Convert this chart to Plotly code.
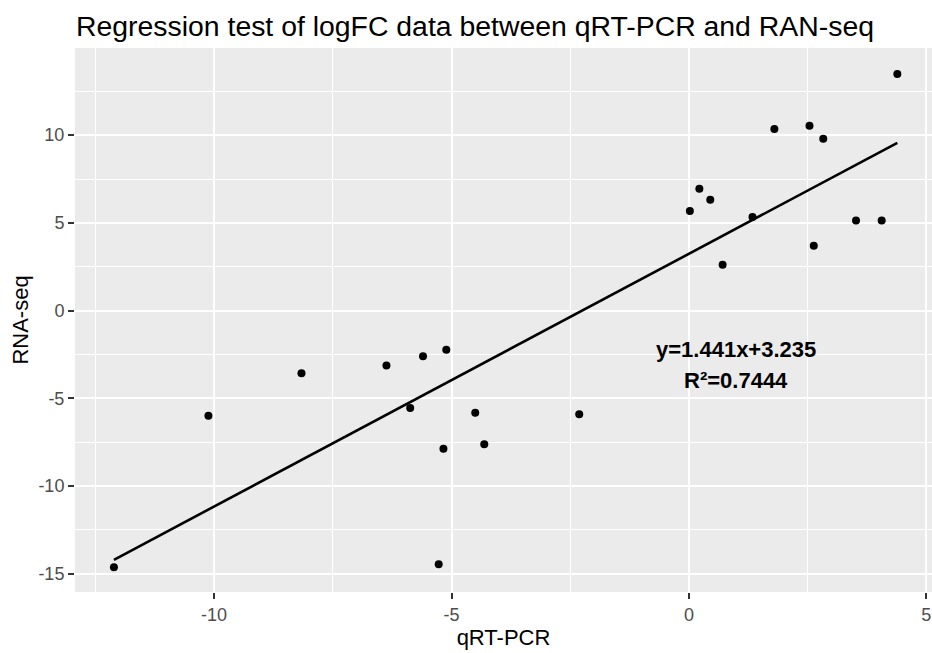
import plotly.graph_objects as go
import numpy as np

qrt_pcr = [-12.11, -10.12, -8.16, -6.37, -5.87, -5.60, -5.11, -5.17, -5.27, -4.50, -4.31, -2.31,
           0.02, 0.22, 0.45, 0.71, 1.34, 1.80, 2.54, 2.83, 2.63, 3.52, 4.06, 4.39]
rna_seq = [-14.64, -6.00, -3.58, -3.13, -5.56, -2.60, -2.23, -7.88, -14.47, -5.83, -7.62, -5.92,
           5.68, 6.94, 6.31, 2.61, 5.34, 10.35, 10.54, 9.80, 3.70, 5.13, 5.13, 13.49]
slope = 1.441
intercept = 3.235
r_squared = 0.7444

x_ticks = [-10, -5, 0, 5]
x_tick_labels = ["-10", "-5", "0", "5"]
y_ticks = [-15, -10, -5, 0, 5, 10]
y_tick_labels = ["-15", "-10", "-5", "0", "5", "10"]

FONT = "Liberation Sans, Arial, sans-serif"

x_line = np.linspace(min(qrt_pcr), max(qrt_pcr), 80)
y_line = slope * x_line + intercept

fig = go.Figure()
fig.add_trace(go.Scatter(x=x_line, y=y_line, mode="lines",
                         line=dict(color="black", width=2.6), showlegend=False, hoverinfo="skip"))
fig.add_trace(go.Scatter(x=qrt_pcr, y=rna_seq, mode="markers",
                         marker=dict(color="black", size=8), showlegend=False))

fig.add_annotation(x=1.0, y=-2.2, xref="x", yref="y", showarrow=False,
                   text=f"<b>y={slope}x+{intercept}</b>",
                   font=dict(family=FONT, size=22, color="black"))
fig.add_annotation(x=1.0, y=-4.0, xref="x", yref="y", showarrow=False,
                   text=f"<b>R²={r_squared}</b>",
                   font=dict(family=FONT, size=22, color="black"))

axis_common = dict(
    showgrid=True, gridcolor="white", gridwidth=2,
    zeroline=False, showline=False, automargin=False,
    ticks="outside", ticklen=6, tickwidth=1.5, tickcolor="#333333",
    tickfont=dict(family=FONT, size=18, color="#4D4D4D"),
)

fig.update_layout(
    width=932, height=653,
    paper_bgcolor="white", plot_bgcolor="#EBEBEB",
    margin=dict(l=75, r=0, t=48, b=61, autoexpand=False),
    title=dict(text="Regression test of logFC data between qRT-PCR and RAN-seq",
               x=76 / 932, xref="container", xanchor="left",
               y=1 - 26 / 653, yref="container", yanchor="middle",
               font=dict(family=FONT, size=28.4, color="black")),
    xaxis=dict(range=[-12.93, 5.12], tickvals=x_ticks, ticktext=x_tick_labels,
               title=dict(text="qRT-PCR", font=dict(family=FONT, size=22, color="black"), standoff=0),
               minor=dict(tickvals=[-12.5, -7.5, -2.5, 2.5], showgrid=True, gridcolor="white",
                          gridwidth=1, ticks=""),
               **axis_common),
    yaxis=dict(range=[-16.05, 14.97], tickvals=y_ticks, ticktext=y_tick_labels,
               title=dict(text="RNA-seq", font=dict(family=FONT, size=22, color="black"), standoff=3),
               minor=dict(tickvals=[-12.5, -7.5, -2.5, 2.5, 7.5, 12.5], showgrid=True,
                          gridcolor="white", gridwidth=1, ticks=""),
               **axis_common),
)

fig.write_html("out.html", config={"displayModeBar": False},
               post_script="document.body.style.margin='0';document.body.style.overflow='hidden';")
